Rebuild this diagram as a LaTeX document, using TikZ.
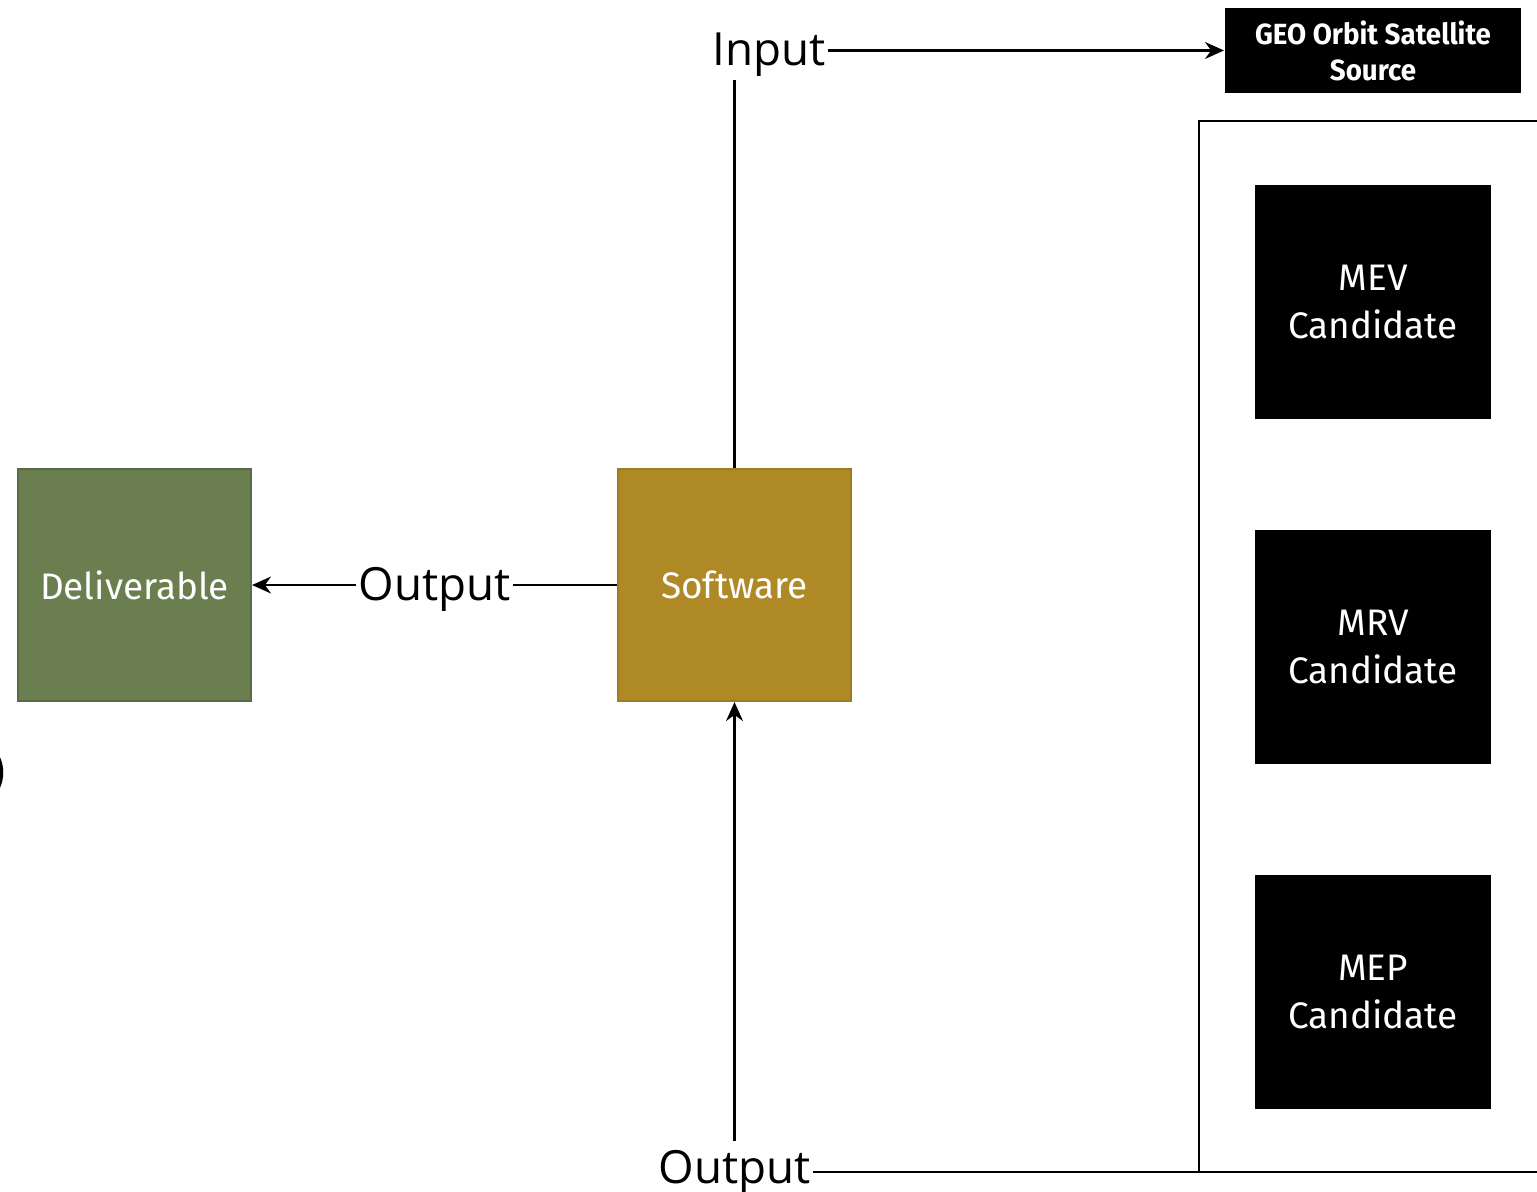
\documentclass[tikz,border=0pt]{standalone}
\usepackage{fontspec}
\setmainfont{Open Sans}
\newfontfamily\boxfont{Fira Sans}
\newfontfamily\geofont[FakeStretch=0.95]{Fira Sans}
\usetikzlibrary{arrows.meta}

\definecolor{delivgreen}{HTML}{6A7E4F}
\definecolor{softgold}{HTML}{AF8926}

\begin{document}
\begin{tikzpicture}[line width=0.6pt, >={Stealth[length=1.9mm,width=1.7mm]},
	block/.style={minimum width=2.33cm, minimum height=2.32cm, align=center, text=white, inner sep=0pt, font=\boxfont\fontsize{10.5}{13.7}\selectfont},
	cand/.style={block, fill=black, draw=black},
	lbl/.style={font=\fontsize{13}{15}\selectfont, inner sep=0.3pt, anchor=base}]
	\useasboundingbox (0,0) rectangle (15.37,-11.91);
	% boxes
	\node[block, fill=delivgreen, draw=delivgreen!85!black] (deliv) at (1.345,-5.85) {Deliverable};
	\node[block, fill=softgold, draw=softgold!90!black] (soft) at (7.345,-5.85) {Software};
	\node[cand] (mev) at (13.73,-3.02) {MEV\\Candidate};
	\node[cand] (mrv) at (13.73,-6.47) {MRV\\Candidate};
	\node[cand] (mep) at (13.73,-9.92) {MEP\\Candidate};
	\node[fill=black, minimum width=2.96cm, minimum height=0.85cm, inner sep=0pt, align=center, text=white,
		font=\geofont\bfseries\fontsize{8.3}{10.2}\selectfont] (geo) at (13.73,-0.505) {GEO Orbit Satellite\\Source};
	% frame round the candidates, open to the right
	\coordinate (frametop) at (11.99,-1.21);
	\coordinate (framebot) at (11.99,-11.72);
	\draw[line width=0.8pt] (15.6,-1.21) -- (frametop) -- (framebot) -- (15.6,-11.72);
	% labels
	\node[lbl] (input) at (7.69,-0.655) {Input};
	\node[lbl] (outmid) at (4.345,-6.0) {Output};
	\node[lbl] (outbot) at (7.345,-11.83) {Output};
	% connectors
	\draw[->] ([yshift=1.2pt]input.east) -- ([yshift=1.2pt]input.east -| geo.west);
	\draw (soft.north) -- ([yshift=-0.5pt]soft.north |- input.south);
	\draw (soft.west) -- (soft.west -| outmid.east);
	\draw[->] (outmid.west |- deliv.east) -- (deliv.east);
	\draw[->] ([yshift=2pt]outbot.north -| soft.south) -- (soft.south);
	\draw (outbot.east) -- (outbot.east -| framebot);
	% piece of a shape cut off at the left edge
	\draw[line width=1pt] (-0.12,-7.45) .. controls (0.06,-7.58) and (0.06,-7.87) .. (-0.12,-8.0);
\end{tikzpicture}
\end{document}
